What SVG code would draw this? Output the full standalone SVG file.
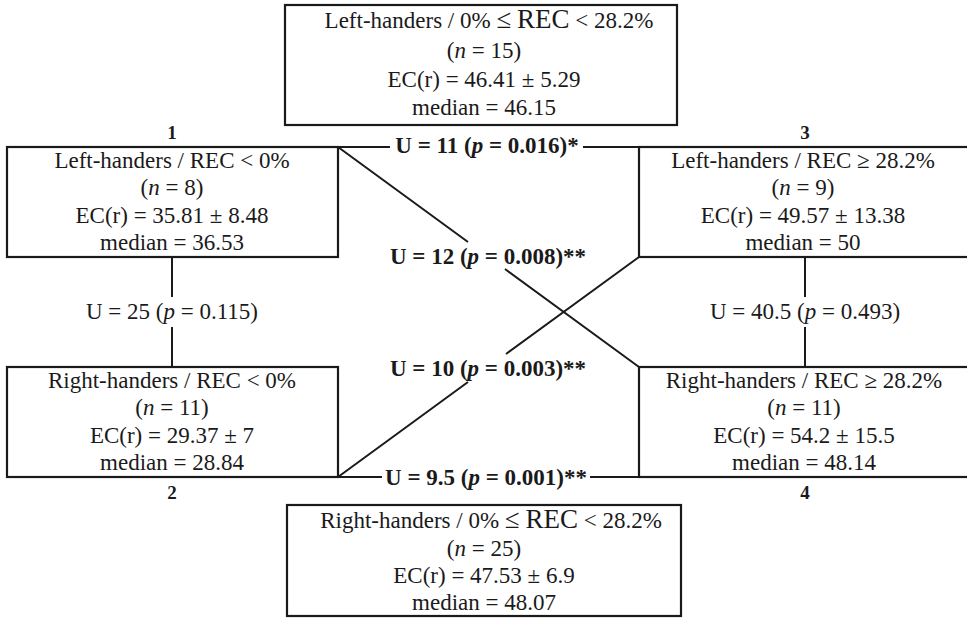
<svg xmlns="http://www.w3.org/2000/svg" width="967" height="618" viewBox="0 0 967 618">
<style>
.box{fill:#fff;stroke:#1a1a1a;stroke-width:2.2}
.ln{stroke:#1a1a1a;stroke-width:2;fill:none}
text{font-family:"Liberation Serif","Times New Roman",serif;font-size:23px;fill:#1a1a1a;text-anchor:middle}
.b{font-weight:bold}
.num{font-weight:bold;font-size:19px}
.big{font-size:27px}
</style>
<rect width="967" height="618" fill="#fff"/>
<g id="connectors">
<path class="ln" d="M338 147H390M583 147H639"/>
<path class="ln" d="M338 477H382M590 477H639"/>
<path class="ln" d="M172 257V297M172 327V367"/>
<path class="ln" d="M805 257V297M805 327V367"/>
<path class="ln" d="M338 147L468 242M505 269L639 367"/>
<path class="ln" d="M338 477L468 382M506 354L639 257"/>
<text class="b" x="487" y="153">U = 11 (<tspan font-style="italic">p</tspan> = 0.016)*</text>
<text class="b" x="488" y="264">U = 12 (<tspan font-style="italic">p</tspan> = 0.008)**</text>
<text class="b" x="488" y="376">U = 10 (<tspan font-style="italic">p</tspan> = 0.003)**</text>
<text class="b" x="486" y="485">U = 9.5 (<tspan font-style="italic">p</tspan> = 0.001)**</text>
<text x="172" y="319">U = 25 (<tspan font-style="italic">p</tspan> = 0.115)</text>
<text x="805" y="319">U = 40.5 (<tspan font-style="italic">p</tspan> = 0.493)</text>
</g>
<g id="node-top">
<rect class="box" x="285" y="5" width="392" height="120"/>
<text x="489" y="28">Left-handers / 0% <tspan class="big">≤</tspan> <tspan class="big">REC</tspan> &lt; 28.2%</text>
<text x="484" y="58">(<tspan font-style="italic">n</tspan> = 15)</text>
<text x="484" y="87">EC(r) = 46.41 ± 5.29</text>
<text x="484" y="115">median = 46.15</text>
</g>
<g id="node-1">
<text class="num" x="172" y="139">1</text>
<rect class="box" x="7" y="147" width="331" height="110"/>
<text x="172" y="168">Left-handers / REC &lt; 0%</text>
<text x="172" y="195">(<tspan font-style="italic">n</tspan> = 8)</text>
<text x="172" y="223">EC(r) = 35.81 ± 8.48</text>
<text x="172" y="250">median = 36.53</text>
</g>
<g id="node-3">
<text class="num" x="805" y="139">3</text>
<rect class="box" x="639" y="147" width="340" height="110"/>
<text x="803" y="168">Left-handers / REC ≥ 28.2%</text>
<text x="803" y="195">(<tspan font-style="italic">n</tspan> = 9)</text>
<text x="803" y="223">EC(r) = 49.57 ± 13.38</text>
<text x="803" y="250">median = 50</text>
</g>
<g id="node-2">
<rect class="box" x="7" y="367" width="331" height="110"/>
<text x="172" y="388">Right-handers / REC &lt; 0%</text>
<text x="172" y="415">(<tspan font-style="italic">n</tspan> = 11)</text>
<text x="172" y="443">EC(r) = 29.37 ± 7</text>
<text x="172" y="470">median = 28.84</text>
<text class="num" x="172" y="499">2</text>
</g>
<g id="node-4">
<rect class="box" x="639" y="367" width="340" height="110"/>
<text x="804" y="388">Right-handers / REC ≥ 28.2%</text>
<text x="804" y="415">(<tspan font-style="italic">n</tspan> = 11)</text>
<text x="804" y="443">EC(r) = 54.2 ± 15.5</text>
<text x="804" y="470">median = 48.14</text>
<text class="num" x="805" y="499">4</text>
</g>
<g id="node-bottom">
<rect class="box" x="287" y="505" width="394" height="111"/>
<text x="491" y="528">Right-handers / 0% <tspan class="big">≤</tspan> <tspan class="big">REC</tspan> &lt; 28.2%</text>
<text x="484" y="556">(<tspan font-style="italic">n</tspan> = 25)</text>
<text x="484" y="583">EC(r) = 47.53 ± 6.9</text>
<text x="484" y="610">median = 48.07</text>
</g>
</svg>
